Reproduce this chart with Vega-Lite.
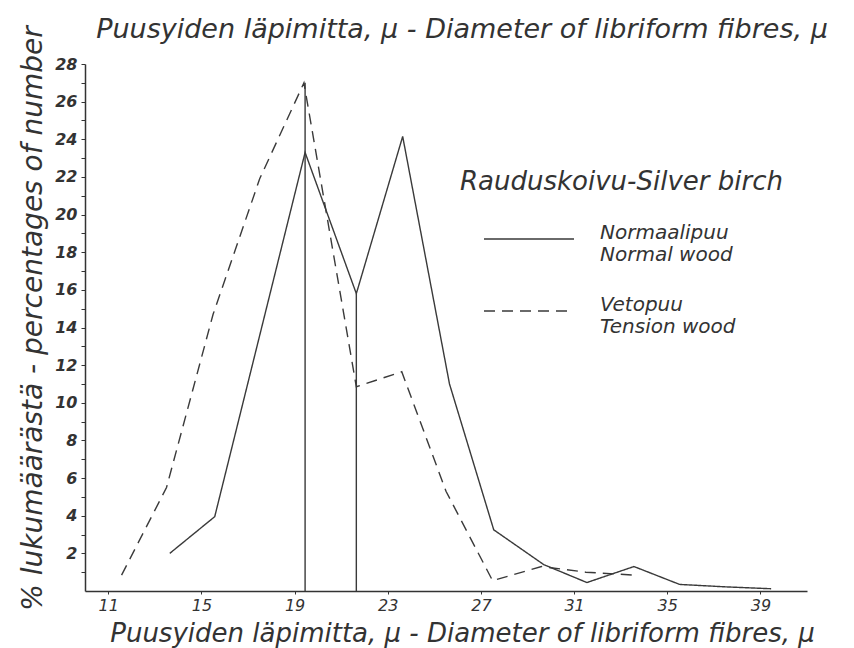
{
  "$schema": "https://vega.github.io/schema/vega-lite/v6.json",
  "width": 722,
  "height": 527,
  "autosize": {"type": "none"},
  "padding": {"left": 85, "top": 64, "right": 47, "bottom": 57},
  "background": "white",
  "title": {
    "text": "Puusyiden läpimitta, µ - Diameter of libriform fibres, µ",
    "anchor": "middle",
    "dx": 16,
    "dy": 34,
    "offset": 16,
    "font": "DejaVu Sans",
    "fontSize": 27,
    "fontStyle": "italic",
    "fontWeight": "normal",
    "color": "#333333"
  },
  "datasets": {
    "curves": [
      {"wood": "Normaalipuu|Normal wood", "diameter": 13.64, "percent": 2.0},
      {"wood": "Normaalipuu|Normal wood", "diameter": 15.57, "percent": 3.95},
      {"wood": "Normaalipuu|Normal wood", "diameter": 19.45, "percent": 23.3},
      {"wood": "Normaalipuu|Normal wood", "diameter": 21.65, "percent": 15.8},
      {"wood": "Normaalipuu|Normal wood", "diameter": 23.64, "percent": 24.15},
      {"wood": "Normaalipuu|Normal wood", "diameter": 25.65, "percent": 11.0},
      {"wood": "Normaalipuu|Normal wood", "diameter": 27.55, "percent": 3.25},
      {"wood": "Normaalipuu|Normal wood", "diameter": 29.7, "percent": 1.4},
      {"wood": "Normaalipuu|Normal wood", "diameter": 31.55, "percent": 0.45},
      {"wood": "Normaalipuu|Normal wood", "diameter": 33.57, "percent": 1.3},
      {"wood": "Normaalipuu|Normal wood", "diameter": 35.53, "percent": 0.35},
      {"wood": "Normaalipuu|Normal wood", "diameter": 37.5, "percent": 0.22},
      {"wood": "Normaalipuu|Normal wood", "diameter": 39.46, "percent": 0.12},
      {"wood": "Vetopuu|Tension wood", "diameter": 11.57, "percent": 0.84},
      {"wood": "Vetopuu|Tension wood", "diameter": 13.5, "percent": 5.5},
      {"wood": "Vetopuu|Tension wood", "diameter": 15.5, "percent": 14.7},
      {"wood": "Vetopuu|Tension wood", "diameter": 17.5, "percent": 21.9},
      {"wood": "Vetopuu|Tension wood", "diameter": 19.4, "percent": 27.0},
      {"wood": "Vetopuu|Tension wood", "diameter": 21.65, "percent": 10.85},
      {"wood": "Vetopuu|Tension wood", "diameter": 23.6, "percent": 11.65},
      {"wood": "Vetopuu|Tension wood", "diameter": 25.5, "percent": 5.3},
      {"wood": "Vetopuu|Tension wood", "diameter": 27.5, "percent": 0.55},
      {"wood": "Vetopuu|Tension wood", "diameter": 29.6, "percent": 1.3},
      {"wood": "Vetopuu|Tension wood", "diameter": 31.5, "percent": 1.0},
      {"wood": "Vetopuu|Tension wood", "diameter": 33.5, "percent": 0.85}
    ],
    "rules": [
      {"diameter": 19.45, "bottom": 0, "top": 27.0},
      {"diameter": 21.65, "bottom": 0, "top": 15.8}
    ]
  },
  "resolve": {"axis": {"y": "independent"}},
  "layer": [
    {
      "data": {"name": "curves"},
      "mark": {"type": "line", "strokeWidth": 1.4, "color": "#3a3a3a"},
      "encoding": {
        "x": {
          "field": "diameter",
          "type": "quantitative",
          "scale": {"domain": [10, 41], "nice": false, "zero": false},
          "axis": {
            "values": [11, 15, 19, 23, 27, 31, 35, 39],
            "labelFontSize": 16,
            "labelFontStyle": "italic",
            "labelFont": "DejaVu Sans",
            "tickSize": 3,
            "labelPadding": 3,
            "title": "Puusyiden läpimitta, µ - Diameter of libriform fibres, µ",
            "titleFont": "DejaVu Sans",
            "titleFontSize": 26,
            "titleFontStyle": "italic",
            "titleFontWeight": "normal",
            "titleX": 377,
            "titleY": 50,
            "titleAlign": "center",
            "titleBaseline": "alphabetic"
          }
        },
        "y": {
          "field": "percent",
          "type": "quantitative",
          "scale": {"domain": [0, 28], "nice": false},
          "axis": {
            "values": [2,4,6,8,10,12,14,16,18,20,22,24,26,28],
            "labelOverlap": false,
            "labelFont": "DejaVu Sans",
            "labelFontSize": 16,
            "labelFontStyle": "italic",
            "labelFontWeight": "bold",
            "tickSize": 4,
            "labelPadding": 4,
            "title": "% lukumäärästä - percentages of number",
            "titleFont": "DejaVu Sans",
            "titleFontSize": 28,
            "titleFontStyle": "italic",
            "titleFontWeight": "normal",
            "titleAngle": 270,
            "titleX": -44,
            "titleY": 254,
            "titleAlign": "center",
            "titleBaseline": "alphabetic",
            "titleLimit": 700
          }
        },
        "strokeDash": {
          "field": "wood",
          "type": "nominal",
          "scale": {
            "domain": ["Normaalipuu|Normal wood", "Vetopuu|Tension wood"],
            "range": [[1, 0], [11, 7]]
          },
          "legend": {
            "orient": "none",
            "legendX": 375,
            "legendY": 105,
            "title": "Rauduskoivu-Silver birch",
            "titleFont": "DejaVu Sans",
            "titleFontSize": 26,
            "titleFontStyle": "italic",
            "titleFontWeight": "normal",
            "titleColor": "#333333",
            "titleLimit": 500,
            "titlePadding": -2,
            "symbolType": "stroke",
            "symbolSize": 8100,
            "symbolStrokeWidth": 1.5,
            "symbolStrokeColor": "#3a3a3a",
            "symbolOffset": 23,
            "labelOffset": 25,
            "labelBaseline": "alphabetic",
            "labelExpr": "split(datum.label, '|')",
            "labelFont": "DejaVu Sans",
            "labelFontSize": 20,
            "labelFontStyle": "italic",
            "labelColor": "#333333",
            "labelLimit": 300,
            "rowPadding": -30
          }
        }
      }
    },
    {
      "data": {"name": "rules"},
      "mark": {"type": "rule", "strokeWidth": 1.4, "color": "#3a3a3a"},
      "encoding": {
        "x": {"field": "diameter", "type": "quantitative"},
        "y": {
          "field": "bottom",
          "type": "quantitative",
          "axis": {
            "orient": "left",
            "values": [1,3,5,7,9,11,13,15,17,19,21,23,25,27],
            "labels": false,
            "domain": false,
            "title": null,
            "tickSize": 4
          }
        },
        "y2": {"field": "top"}
      }
    }
  ],
  "config": {
    "view": {"stroke": null},
    "axis": {
      "grid": false,
      "domainColor": "#333333",
      "domainWidth": 1.5,
      "tickColor": "#333333",
      "labelColor": "#333333",
      "titleColor": "#333333"
    }
  }
}
